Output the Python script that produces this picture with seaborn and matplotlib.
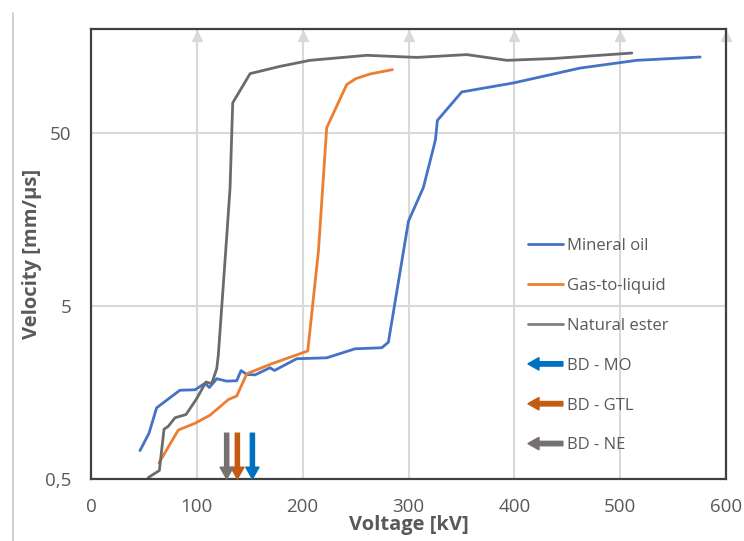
import numpy as np
import pandas as pd
import matplotlib
matplotlib.use("Agg")
import matplotlib.pyplot as plt
import matplotlib.patches as mpatches
from matplotlib.legend_handler import HandlerPatch
from matplotlib.lines import Line2D
import seaborn as sns

# ---------------- data ----------------
mo_voltage = [46.3, 54.8, 62.0, 84.0, 98.3, 107.8, 111.8, 118.8, 128.2, 137.7, 141.8, 147.2,
              155.0, 169.2, 173.3, 194.4, 222.7, 249.5, 274.8, 281.0, 300.0, 314.0, 323.6,
              325.5, 327.3, 350.3, 399.1, 462.2, 515.7, 575.6]
mo_velocity = [0.73, 0.92, 1.29, 1.63, 1.64, 1.79, 1.69, 1.90, 1.84, 1.85, 2.12, 2.01,
               2.00, 2.20, 2.12, 2.48, 2.51, 2.83, 2.87, 3.09, 15.5, 24.2, 41.1,
               46.0, 59.2, 86.5, 97.5, 118.9, 131.8, 137.7]

gtl_voltage = [64.3, 82.5, 98.3, 112.5, 129.8, 137.7, 147.2, 170.8, 204.8, 214.9, 222.7,
               241.6, 250.2, 263.7, 284.8]
gtl_velocity = [0.62, 0.96, 1.05, 1.17, 1.44, 1.51, 2.03, 2.32, 2.75, 10.4, 53.7,
                95.4, 103.3, 109.9, 116.4]

ne_voltage = [54.2, 64.6, 69.0, 73.1, 79.4, 89.8, 99.9, 108.7, 114.0, 118.8, 120.3,
              128.2, 131.4, 133.9, 150.3, 178.6, 207.0, 260.6, 307.8, 355.1, 393.0,
              437.0, 511.0]
ne_velocity = [0.51, 0.56, 0.97, 1.01, 1.13, 1.18, 1.46, 1.82, 1.78, 2.17, 2.60,
               12.5, 24.2, 74.8, 110.4, 121.6, 131.8, 140.9, 137.0, 142.2, 131.8,
               135.0, 145.2]

series_names = ["Mineral oil", "Gas-to-liquid", "Natural ester"]
series_colors = ["#4472C4", "#ED7D31", "#6B6B6B"]
legend_line_colors = ["#4472C4", "#ED7D31", "#7F7F7F"]

bd_labels = ["BD - MO", "BD - GTL", "BD - NE"]
bd_voltage = [152.5, 138.3, 128.2]
bd_colors = ["#0070C0", "#C55A11", "#767171"]
bd_arrow_top = 0.92
bd_arrow_bottom = 0.5

x_ticks = [0, 100, 200, 300, 400, 500, 600]
y_ticks = [0.5, 5, 50]
y_ticklabels = ["0,5", "5", "50"]

# ---------------- style ----------------
sns.set_style("white")
plt.rcParams["font.family"] = ["Open Sans", "DejaVu Sans"]

W, H = 744, 541
fig = plt.figure(figsize=(W / 100, H / 100), dpi=100)
ax = fig.add_axes([91 / W, 1 - 479 / H, 635 / W, 450 / H])

# decorative thin line at left edge of screenshot
fig.add_artist(Line2D([13 / W, 13 / W], [0, 1 - 13 / H], color="#C8C8C8", lw=1.2))

ax.set_yscale("log")
ax.set_xlim(0, 600)
ax.set_ylim(0.5, 200)

# gridlines
grid_c = "#D9D9D9"
for xv in x_ticks[1:]:
    ax.axvline(xv, color=grid_c, lw=1.5, zorder=0)
for yv in y_ticks[1:]:
    ax.axhline(yv, color=grid_c, lw=1.5, zorder=0)
ax.plot(x_ticks[1:], [0.984] * (len(x_ticks) - 1), ls="none", marker="^", ms=7,
        color=grid_c, transform=ax.get_xaxis_transform(), clip_on=False, zorder=0)

datasets = [(mo_voltage, mo_velocity), (gtl_voltage, gtl_velocity), (ne_voltage, ne_velocity)]
for (xv, yv), name, c in zip(datasets, series_names, series_colors):
    df = pd.DataFrame({"Voltage": xv, "Velocity": yv})
    sns.lineplot(data=df, x="Voltage", y="Velocity", sort=False, estimator=None,
                 color=c, lw=2.0, ax=ax, label=name, legend=False)

for xv, c in zip(bd_voltage, bd_colors):
    ax.annotate("", xy=(xv, bd_arrow_bottom), xytext=(xv, bd_arrow_top),
                arrowprops=dict(width=3, headwidth=9.5, headlength=8.5, color=c, shrink=0),
                zorder=5)

# ticks
ax.set_xticks(x_ticks)
ax.set_xticklabels([str(v) for v in x_ticks])
ax.set_yticks(y_ticks)
ax.set_yticklabels(y_ticklabels)
ax.minorticks_off()
ax.tick_params(axis="both", length=0, labelsize=13.5, labelcolor="#595959")
ax.tick_params(axis="x", pad=14)
ax.tick_params(axis="y", pad=14)

for s in ax.spines.values():
    s.set_color("#404040")
    s.set_linewidth(1.6)

ax.set_xlabel("Voltage [kV]", fontsize=14.5, fontweight="bold", color="#595959", labelpad=-1)
ax.set_ylabel("Velocity [mm/µs]", fontsize=14.5, fontweight="bold", color="#595959", labelpad=2)

# legend
line_handles = [Line2D([], [], color=c, lw=2.0) for c in legend_line_colors]
arrow_handles = [mpatches.Patch(color=c) for c in bd_colors]


def make_arrow(legend, orig_handle, xdescent, ydescent, width, height, fontsize):
    return mpatches.FancyArrow(width, height / 2, -width, 0, width=3.2, head_width=9,
                               head_length=8, length_includes_head=True,
                               color=orig_handle.get_facecolor(), lw=0)


handler_map = {h: HandlerPatch(patch_func=make_arrow) for h in arrow_handles}
leg = ax.legend(line_handles + arrow_handles, series_names + bd_labels,
                loc="center left", bbox_to_anchor=(0.688, 0.296), frameon=False,
                borderpad=0, borderaxespad=0, fontsize=12, labelcolor="#595959",
                labelspacing=1.43, handlelength=2.1, handletextpad=0.25,
                handler_map=handler_map)

fig.savefig("out.png", dpi=100)
